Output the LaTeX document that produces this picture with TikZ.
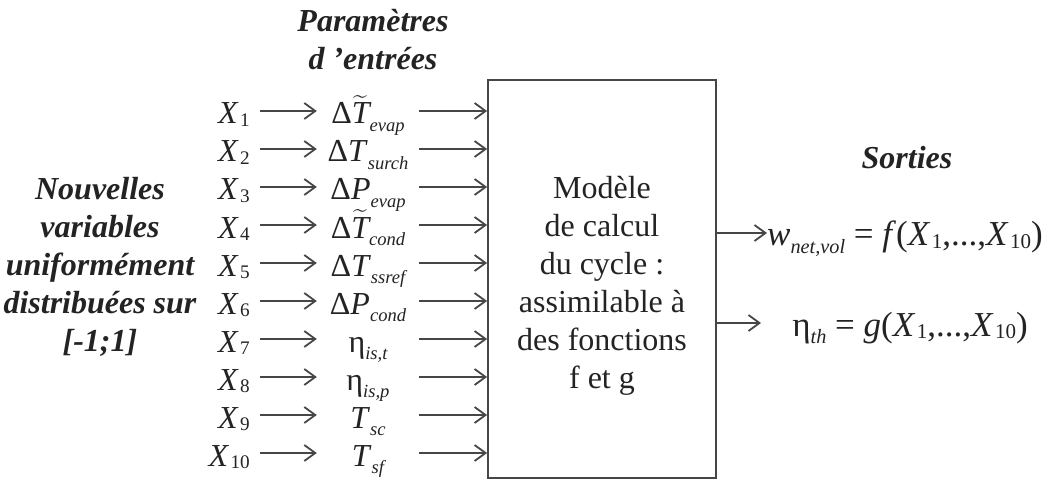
\documentclass[tikz,border=0pt]{standalone}
\usepackage{amsmath}
\usepackage{fontspec}
\setmainfont{Liberation Serif}
\usetikzlibrary{arrows.meta}
\definecolor{ink}{RGB}{35,35,35}
\definecolor{wirecol}{RGB}{70,70,70}
\newcommand\fs{\fontsize{32}{38}\selectfont}
\newcommand\fo{\fontsize{35}{40}\selectfont}
\newcommand\sbs[1]{\raisebox{-0.22em}{\scalebox{0.58}{\itshape #1}}}
\newcommand\idx[1]{\kern1.5pt\raisebox{-0.08em}{\scalebox{0.6}{#1}}}
\newcommand\tld{\ensuremath{\widetilde{\mbox{\itshape T}}}}

\begin{document}
\begin{tikzpicture}[x=1pt, y=-1pt, >={Straight Barb[length=11pt,width=16pt]},
  lbl/.style={inner sep=0, text height=29pt, text depth=3pt, font=\fs, text=ink},
  xvar/.style={lbl, anchor=east, inner xsep=10pt},
  param/.style={lbl, minimum width=102pt},
  wire/.style={draw=wirecol, line width=1.8pt},
  heading/.style={font=\fs\bfseries\itshape, text=ink, align=center, inner sep=0}]
\useasboundingbox (0,0) rectangle (1052,481);

% model block
\node[wire, minimum width=228pt, minimum height=398pt, inner sep=0] (model) at (602,279) {};
\node[font=\fs, text=ink, align=center, inner sep=0] (modeltxt) at (602,286)
  {Modèle\\de calcul\\du cycle :\\assimilable à\\des fonctions\\f et g};

% titles
\node[heading] (ttl) at (373,40) {Paramètres\\d ’entrées};
\node[heading] (nv) at (100,267) {Nouvelles\\variables\\uniformément\\distribuées sur\\{[-1;1]}};
\node[heading] (sort) at (907,158) {Sorties};

% inputs
\node[xvar] (x1) at (260,111) {\textit{X}\idx{1}};
\node[param] (p1) at (368,111) {Δ\tld\sbs{evap}};
\draw[wire,->] (x1) -- (p1); \draw[wire,->] (p1) -- (p1 -| model.west);

\node[xvar] (x2) at (260,149) {\textit{X}\idx{2}};
\node[param] (p2) at (368,149) {Δ\textit{T}\sbs{surch}};
\draw[wire,->] (x2) -- (p2); \draw[wire,->] (p2) -- (p2 -| model.west);

\node[xvar] (x3) at (260,187) {\textit{X}\idx{3}};
\node[param] (p3) at (368,187) {Δ\textit{P}\sbs{evap}};
\draw[wire,->] (x3) -- (p3); \draw[wire,->] (p3) -- (p3 -| model.west);

\node[xvar] (x4) at (260,225) {\textit{X}\idx{4}};
\node[param] (p4) at (368,225) {Δ\tld\sbs{cond}};
\draw[wire,->] (x4) -- (p4); \draw[wire,->] (p4) -- (p4 -| model.west);

\node[xvar] (x5) at (260,263) {\textit{X}\idx{5}};
\node[param] (p5) at (368,263) {Δ\textit{T}\sbs{ssref}};
\draw[wire,->] (x5) -- (p5); \draw[wire,->] (p5) -- (p5 -| model.west);

\node[xvar] (x6) at (260,301) {\textit{X}\idx{6}};
\node[param] (p6) at (368,301) {Δ\textit{P}\sbs{cond}};
\draw[wire,->] (x6) -- (p6); \draw[wire,->] (p6) -- (p6 -| model.west);

\node[xvar] (x7) at (260,339) {\textit{X}\idx{7}};
\node[param] (p7) at (368,339) {η\sbs{is,t}};
\draw[wire,->] (x7) -- (p7); \draw[wire,->] (p7) -- (p7 -| model.west);

\node[xvar] (x8) at (260,377) {\textit{X}\idx{8}};
\node[param] (p8) at (368,377) {η\sbs{is,p}};
\draw[wire,->] (x8) -- (p8); \draw[wire,->] (p8) -- (p8 -| model.west);

\node[xvar] (x9) at (260,415) {\textit{X}\idx{9}};
\node[param] (p9) at (368,415) {\textit{T}\sbs{sc}};
\draw[wire,->] (x9) -- (p9); \draw[wire,->] (p9) -- (p9 -| model.west);

\node[xvar] (x10) at (260,453) {\textit{X}\idx{10}};
\node[param] (p10) at (368,453) {\textit{T}\sbs{sf}};
\draw[wire,->] (x10) -- (p10); \draw[wire,->] (p10) -- (p10 -| model.west);

% outputs
\node[lbl, font=\fo, text height=31pt, text depth=5pt, anchor=west] (wout) at (767,233)
  {\textit{w}\sbs{net,vol} = \textit{f}(\textit{X}\idx{1},...,\textit{X}\idx{10})};
\draw[wire,->] (model.east |- wout) -- (wout.west);

\node[lbl, font=\fo, text height=31pt, text depth=5pt] (eta) at (910,323)
  {η\sbs{th} = \textit{g}(\textit{X}\idx{1},...,\textit{X}\idx{10})};
\coordinate (etain) at (761,323);
\draw[wire,->] (model.east |- etain) -- (etain);

\end{tikzpicture}
\end{document}
